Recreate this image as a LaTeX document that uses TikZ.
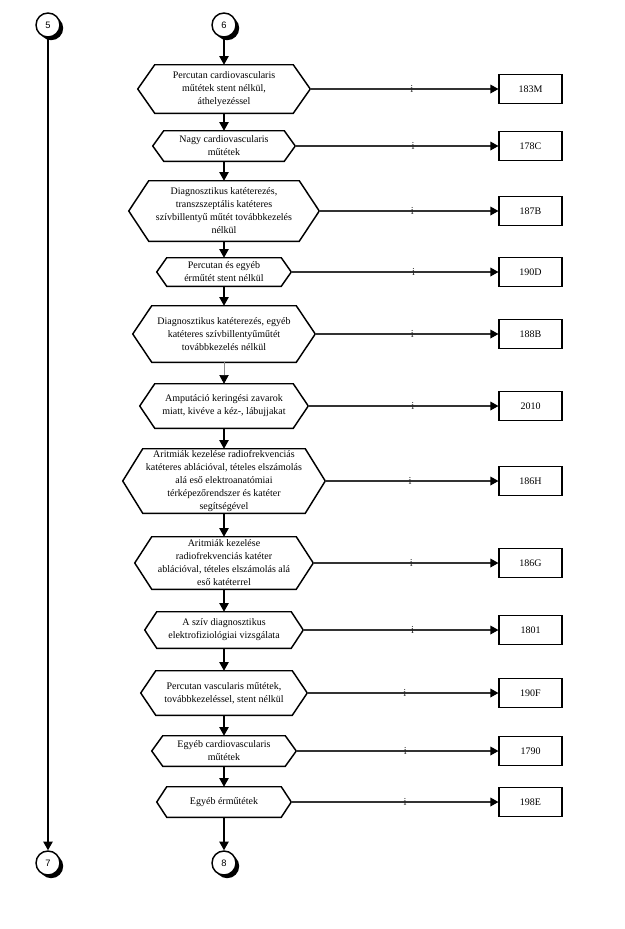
\documentclass[tikz,border=0pt]{standalone}
\usepackage{fontspec}
\setmainfont{Liberation Serif}
\newfontfamily\numfont{Liberation Sans}
\usetikzlibrary{arrows.meta,calc,shadows}
\tikzset{
 hextext/.style={inner sep=0pt, align=center, font=\fontsize{7.5}{9.75}\selectfont},
 hexline/.style={draw=black, line width=1.1pt, line join=miter},
 resbox/.style={draw=black, line width=1.1pt, minimum width=47pt, minimum height=22pt, inner sep=0pt, font=\fontsize{7.5}{9}\selectfont},
 conncircle/.style={circle, draw=black, line width=1.1pt, fill=white, minimum size=18pt, inner sep=0pt, font=\numfont\fontsize{7}{8}\selectfont, drop shadow={shadow xshift=2.4pt, shadow yshift=-2.4pt, opacity=1, fill=black}},
 varrow/.style={draw=black, line width=1.1pt, -{Triangle[length=6.5pt,width=7pt]}},
 thinarrow/.style={draw=black!45, line width=0.5pt, -{Triangle[length=6.5pt,width=7pt,color=black]}},
 harrow/.style={draw=black!80, line width=0.9pt, -{Triangle[length=6pt,width=6.5pt,color=black]}},
 ilab/.style={inner sep=0pt, font=\fontsize{8}{9}\selectfont, text=black!85}
}
% #1 name, #2 cx, #3 cy, #4 half width at tips, #5 half height, #6 inset, #7 text (px)
\newcommand\hexnode[7]{%
  \node[hextext, minimum width={1.5pt*#4-1.5pt*#6}, minimum height={1.5pt*#5}] (#1) at (#2,#3) {#7};
  \draw[hexline] ($(#1.west)+(-#6,0)$) coordinate (#1-l) -- (#1.north west) -- (#1.north east)
    -- ($(#1.east)+(#6,0)$) coordinate (#1-r) -- (#1.south east) -- (#1.south west) -- cycle;
}
% #1 hex name, #2 box name, #3 box text, #4 pos of label
\newcommand\resrow[4]{%
  \node[resbox] (#2) at (530.5,0 |- #1) {#3};
  \draw[harrow] (#1-r) -- node[ilab, pos=#4] {i} (#2);
}
\begin{document}
\begin{tikzpicture}[x=0.75pt,y=-0.75pt]
\useasboundingbox (0,0) rectangle (625,929);

\node[conncircle] (c5) at (48,25) {5};
\node[conncircle] (c6) at (224,25) {6};
\node[conncircle] (c7) at (48,863) {7};
\node[conncircle] (c8) at (224,863) {8};

\hexnode{h1}{224}{89}{86}{24}{17}{Percutan cardiovascularis\\műtétek stent nélkül,\\áthelyezéssel}
\hexnode{h2}{224}{146}{71}{15}{11}{Nagy cardiovascularis\\műtétek}
\hexnode{h3}{224}{211}{95}{30}{20}{Diagnosztikus katéterezés,\\transzszeptális katéteres\\szívbillentyű műtét továbbkezelés\\nélkül}
\hexnode{h4}{224}{272}{67}{14}{10}{Percutan és egyéb\\érműtét stent nélkül}
\hexnode{h5}{224}{334}{91}{28}{19}{Diagnosztikus katéterezés, egyéb\\katéteres szívbillentyűműtét\\továbbkezelés nélkül}
\hexnode{h6}{224}{406}{84}{22}{15}{Amputáció keringési zavarok\\miatt, kivéve a kéz-, lábujjakat}
\hexnode{h7}{224}{481}{101}{32}{20}{\fontsize{7.5}{9.2}\selectfont Aritmiák kezelése radiofrekvenciás\\katéteres ablációval, tételes elszámolás\\alá eső elektroanatómiai\\térképezőrendszer és katéter\\segítségével}
\hexnode{h8}{224}{563}{89}{26}{17}{Aritmiák kezelése\\radiofrekvenciás katéter\\ablációval, tételes elszámolás alá\\eső katéterrel}
\hexnode{h9}{224}{630}{79}{18}{12}{A szív diagnosztikus\\elektrofiziológiai vizsgálata}
\hexnode{h10}{224}{693}{83}{22}{15}{Percutan vascularis műtétek,\\továbbkezeléssel, stent nélkül}
\hexnode{h11}{224}{751}{72}{15}{11}{Egyéb cardiovascularis\\műtétek}
\hexnode{h12}{224}{802}{67}{15}{10}{Egyéb érműtétek}

\resrow{h1}{b1}{183M}{0.54}
\resrow{h2}{b2}{178C}{0.58}
\resrow{h3}{b3}{187B}{0.52}
\resrow{h4}{b4}{190D}{0.59}
\resrow{h5}{b5}{188B}{0.53}
\resrow{h6}{b6}{2010}{0.55}
\resrow{h7}{b7}{186H}{0.49}
\resrow{h8}{b8}{186G}{0.53}
\resrow{h9}{b9}{1801}{0.56}
\resrow{h10}{b10}{190F}{0.51}
\resrow{h11}{b11}{1790}{0.54}
\resrow{h12}{b12}{198E}{0.55}

\draw[varrow] (c5) -- (c7);
\draw[varrow] (c6) -- (h1);
\draw[varrow] (h1) -- (h2);
\draw[varrow] (h2) -- (h3);
\draw[varrow] (h3) -- (h4);
\draw[varrow] (h4) -- (h5);
\draw[thinarrow] (h5) -- (h6);
\draw[varrow] (h6) -- (h7);
\draw[varrow] (h7) -- (h8);
\draw[varrow] (h8) -- (h9);
\draw[varrow] (h9) -- (h10);
\draw[varrow] (h10) -- (h11);
\draw[varrow] (h11) -- (h12);
\draw[varrow] (h12) -- (c8);
\end{tikzpicture}
\end{document}
